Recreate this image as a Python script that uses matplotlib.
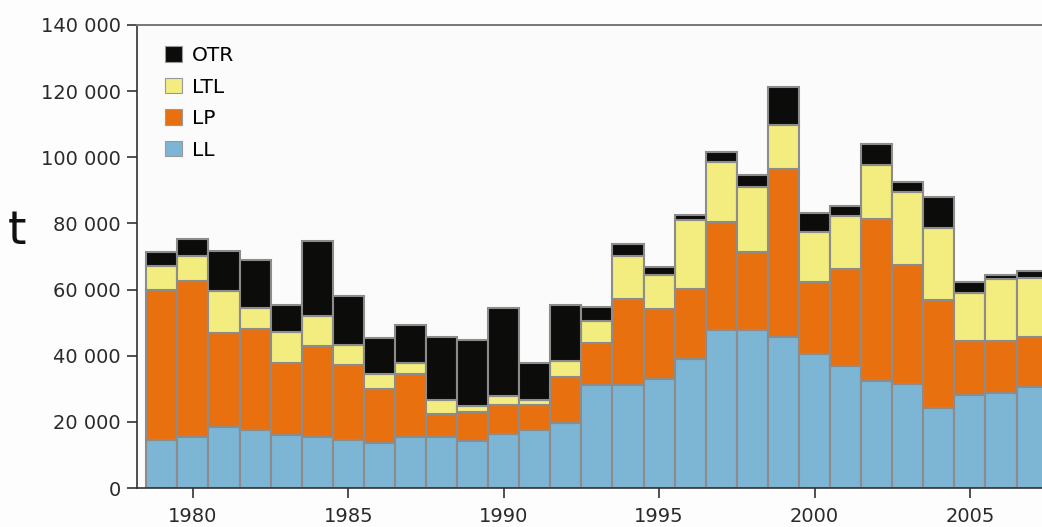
import matplotlib
matplotlib.use("Agg")
import matplotlib.pyplot as plt
from matplotlib.patches import Patch
from matplotlib.ticker import FuncFormatter

years = list(range(1979, 2008))
LL = [14.6, 15.3, 18.4, 17.6, 16.1, 15.4, 14.6, 13.6, 15.4, 15.4, 14.1, 16.4, 17.6, 19.8,
      31.0, 31.0, 33.0, 39.1, 47.8, 47.8, 45.8, 40.6, 36.8, 32.5, 31.5, 24.2, 28.2, 28.7, 30.5]
LP_top = [59.9, 62.7, 46.8, 48.0, 37.8, 43.0, 37.3, 29.9, 34.5, 22.4, 22.9, 25.0, 25.0, 33.7,
          43.8, 57.1, 54.1, 60.1, 80.3, 71.3, 96.5, 62.2, 66.2, 81.4, 67.5, 56.7, 44.3, 44.3, 45.8]
LTL_top = [67.0, 70.2, 59.6, 54.4, 47.1, 51.9, 43.3, 34.4, 37.8, 26.7, 24.7, 27.7, 26.7, 38.5,
           50.4, 70.2, 64.5, 81.1, 98.5, 90.9, 109.8, 77.5, 82.1, 97.7, 89.4, 78.5, 58.9, 63.1, 63.6]
OTR_top = [71.3, 75.2, 71.8, 69.0, 55.2, 74.7, 58.2, 45.3, 49.3, 45.8, 44.8, 54.4, 37.8, 55.4,
           54.7, 73.7, 66.7, 82.4, 101.5, 94.5, 121.3, 83.1, 85.4, 104.0, 92.6, 87.9, 62.4, 64.5, 65.7]

# values in tonnes
LL_t = [v * 1000 for v in LL]
LP_t = [(b - a) * 1000 for a, b in zip(LL, LP_top)]
LTL_t = [(b - a) * 1000 for a, b in zip(LP_top, LTL_top)]
OTR_t = [(b - a) * 1000 for a, b in zip(LTL_top, OTR_top)]

colors = {"LL": "#7db5d5", "LP": "#e8700f", "LTL": "#f3ec7e", "OTR": "#0c0c0a"}

plt.rcParams['font.family'] = ['DejaVu Sans']
fig = plt.figure(figsize=(10.42, 5.27), dpi=100)
fig.patch.set_facecolor("#fdfdfd")
ax = fig.add_axes([137/1042, 1-488/527, 1-137/1042, (488-25)/527])
ax.set_facecolor("#fbfbfb")

edge = dict(edgecolor="#8c8c8c", linewidth=1.5, width=1.0)
bottom = [0]*len(years)
for name, vals in [("LL", LL_t), ("LP", LP_t), ("LTL", LTL_t), ("OTR", OTR_t)]:
    ax.bar(years, vals, bottom=bottom, color=colors[name], **edge)
    bottom = [b + v for b, v in zip(bottom, vals)]

ax.set_xlim(1978.2, 2007.32)
ax.set_ylim(0, 140000)
ax.set_yticks(range(0, 140001, 20000))
ax.yaxis.set_major_formatter(FuncFormatter(lambda v, p: f"{int(v):,}".replace(",", " ")))
ax.set_xticks([1980, 1985, 1990, 1995, 2000, 2005])

for s in ["left", "bottom"]:
    ax.spines[s].set_color("#333333")
    ax.spines[s].set_linewidth(1.2)
ax.spines["top"].set_color("#777777")
ax.spines["top"].set_linewidth(1.4)
ax.spines["right"].set_visible(False)
ax.tick_params(axis="both", direction="out", length=7.5, width=1.2, color="#333333",
               labelsize=14, labelcolor="#2a2a2a")
ax.tick_params(axis="x", pad=6)
ax.tick_params(axis="y", pad=4)

handles = [Patch(facecolor=colors[n], edgecolor="#999999", linewidth=0.8, label=n)
           for n in ["OTR", "LTL", "LP", "LL"]]
ax.legend(handles=handles, loc="upper left", bbox_to_anchor=(0.015, 0.985), frameon=False,
          fontsize=14.5, handlelength=0.85, handleheight=0.8, handletextpad=0.5,
          labelspacing=0.62, borderaxespad=0.3)

fig.text(17/1042, 1-232/527, "t", fontsize=34, ha="center", va="center", color="#111111")

fig.savefig("out.png", dpi=100, facecolor=fig.get_facecolor())
